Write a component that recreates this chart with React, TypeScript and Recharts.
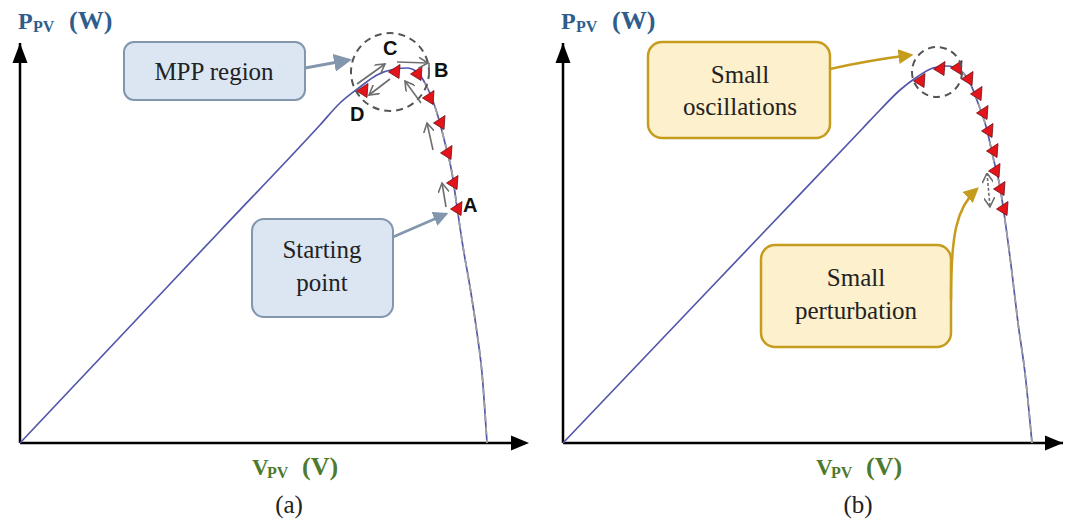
import React from 'react';
import { ComposedChart, Line, Scatter, XAxis, YAxis, ReferenceDot, ReferenceLine } from 'recharts';

// panel (a): P-V curve (V and P in % of axis length)
const voltageA = [0, 20, 40, 60, 64, 68, 71.4, 75, 77.4, 79.4, 81.4, 83.4, 85, 86.4, 87.4, 88.6, 90, 91.4, 92.4, 93.4];
const powerA = [0, 26.5, 53, 79.5, 85, 89, 92, 93.5, 93.75, 92.75, 89, 82.5, 75, 67.5, 59, 49, 39, 27.5, 17.5, 0];
// P&O operating points (red markers), from D over C, B down to A
const stepVoltageA = [68.6, 75, 79.4, 81.8, 84, 85.4, 86.6, 87.4];
const stepPowerA = [88.25, 93, 92.5, 86.5, 80.25, 72.75, 65.25, 58.75];

// panel (b)
const voltageB = [0, 20, 40, 60, 63.4, 67.4, 70.8, 74, 76.8, 79.4, 81.4, 83, 84.8, 86, 87.4, 88.4, 89.8, 91, 92.4, 93.8];
const powerB = [0, 26.25, 52.5, 78.75, 83.25, 88.25, 91.5, 93.75, 94.25, 93.25, 90, 85, 78.25, 71.5, 64, 55.75, 42.5, 30, 17.5, 0];
const stepVoltageB = [71.4, 75.4, 78.8, 81, 82.8, 84, 85, 86, 86.4, 87.4, 88];
const stepPowerB = [90.75, 93.75, 94, 91.25, 87.5, 82.75, 78.25, 73.25, 68.25, 63.75, 58.75];

const toPoints = (vs: number[], ps: number[]) => vs.map((v, i) => ({ v, p: ps[i] }));

const SERIF = "'Liberation Serif', 'Times New Roman', serif";
const SANS = "'Liberation Sans', Arial, sans-serif";

const StepMarker = (props: any) => {
  const { cx, cy } = props;
  if (cx == null || cy == null) return null;
  return (
    <polygon
      points={`${cx - 6.5},${cy + 1} ${cx + 5},${cy - 6.5} ${cx + 4},${cy + 7.5}`}
      fill="#e3141c"
      stroke="#6b1010"
      strokeWidth={0.8}
    />
  );
};

type PanelProps = {
  left: number;
  curve: { v: number; p: number }[];
  tailFrom: number;
  steps: { v: number; p: number }[];
  ring: { v: number; p: number; r: number };
};

function PvPanel({ left, curve, tailFrom, steps, ring }: PanelProps) {
  return (
    <div style={{ position: 'absolute', left, top: 0 }}>
      <ComposedChart width={540} height={470} margin={{ top: 43, right: 20, bottom: 27, left: 20 }}>
        <XAxis type="number" dataKey="v" domain={[0, 100]} hide />
        <YAxis type="number" dataKey="p" domain={[0, 100]} hide />
        {/* the two axes */}
        <ReferenceLine y={0} stroke="#000" strokeWidth={2.5} />
        <ReferenceLine x={0} stroke="#000" strokeWidth={2.5} />
        <Line data={curve} dataKey="p" type="monotone" stroke="#5257aa" strokeWidth={1.7} dot={false} isAnimationActive={false} />
        <Line
          data={curve.slice(tailFrom)}
          dataKey="p"
          type="monotone"
          stroke="#a0a0a0"
          strokeWidth={1.7}
          strokeDasharray="8 5"
          dot={false}
          isAnimationActive={false}
        />
        <Scatter data={steps} dataKey="p" shape={StepMarker} isAnimationActive={false} />
        <ReferenceDot x={ring.v} y={ring.p} r={ring.r} fill="none" stroke="#555" strokeWidth={2} strokeDasharray="7 5" ifOverflow="visible" />
      </ComposedChart>
    </div>
  );
}

function AxisTitles({ x0, vx }: { x0: number; vx: number }) {
  return (
    <g fontFamily={SERIF} fontWeight="bold">
      <text x={x0 - 2} y={29} fontSize={24} fill="#2f5d8c">P</text>
      <text x={x0 + 13} y={32} fontSize={16} fill="#2f5d8c">PV</text>
      <text x={x0 + 49} y={29} fontSize={26} fill="#2f5d8c">(W)</text>
      <text x={vx} y={475} fontSize={23} fill="#4e7a2e">V</text>
      <text x={vx + 15} y={478} fontSize={16} fill="#4e7a2e">PV</text>
      <text x={vx + 50} y={475} fontSize={26} fill="#4e7a2e">(V)</text>
    </g>
  );
}

function Overlay() {
  const steel = '#8296ae';
  const gold = '#c69c1e';
  const step = '#6e6e6e';
  return (
    <svg width={1065} height={524} style={{ position: 'absolute', left: 0, top: 0, pointerEvents: 'none' }}>
      <defs>
        <marker id="mSteel" markerWidth="6" markerHeight="6" refX="5" refY="3" orient="auto" markerUnits="strokeWidth">
          <path d="M0,0 L6,3 L0,6 z" fill={steel} />
        </marker>
        <marker id="mGold" markerWidth="6" markerHeight="6" refX="5" refY="3" orient="auto" markerUnits="strokeWidth">
          <path d="M0,0 L6,3 L0,6 z" fill={gold} />
        </marker>
        <marker id="mStep" markerWidth="7" markerHeight="7" refX="6" refY="3.5" orient="auto" markerUnits="strokeWidth">
          <path d="M0,0 L6,3.5 L0,7" fill="none" stroke={step} strokeWidth={1} />
        </marker>
        <marker id="mStepStart" markerWidth="7" markerHeight="7" refX="0" refY="3.5" orient="auto" markerUnits="strokeWidth">
          <path d="M6,0 L0,3.5 L6,7" fill="none" stroke={step} strokeWidth={1} />
        </marker>
      </defs>

      {/* axis arrow heads */}
      <polygon points="20,43 12.5,63 27.5,63" fill="#000" />
      <polygon points="529,443 511,435.5 511,450.5" fill="#000" />
      <polygon points="563,43 555.5,63 570.5,63" fill="#000" />
      <polygon points="1063,443 1045,435.5 1045,450.5" fill="#000" />

      <AxisTitles x0={20} vx={252} />
      <AxisTitles x0={563} vx={816} />

      <g fontFamily={SERIF} fontSize={25} fill="#222" textAnchor="middle">
        <text x={289} y={513}>(a)</text>
        <text x={858} y={513}>(b)</text>
      </g>

      {/* (a) call-outs */}
      <rect x={124} y={42} width={181} height={58} rx={10} fill="#dce6f2" stroke={steel} strokeWidth={2} />
      <text x={214} y={80} fontFamily={SERIF} fontSize={25} fill="#222" textAnchor="middle">MPP region</text>
      <line x1={305} y1={68} x2={349} y2={60} stroke={steel} strokeWidth={3} markerEnd="url(#mSteel)" />

      <rect x={252} y={219} width={141} height={98} rx={12} fill="#dce6f2" stroke={steel} strokeWidth={2} />
      <g fontFamily={SERIF} fontSize={25} fill="#222" textAnchor="middle">
        <text x={322} y={258}>Starting</text>
        <text x={322} y={291}>point</text>
      </g>
      <line x1={393} y1={237} x2={446} y2={214} stroke={steel} strokeWidth={2.5} markerEnd="url(#mSteel)" />

      {/* (a) perturb & observe steps */}
      <g stroke={step} strokeWidth={1.6} fill="none">
        <line x1={446} y1={207} x2={442} y2={183} markerEnd="url(#mStep)" />
        <line x1={433} y1={150} x2={427} y2={123} markerEnd="url(#mStep)" />
        <line x1={421} y1={103} x2={405} y2={81} markerEnd="url(#mStep)" />
        <line x1={357} y1={84} x2={385} y2={64} markerEnd="url(#mStep)" />
        <line x1={397} y1={62} x2={428} y2={63} markerEnd="url(#mStep)" />
        <line x1={429} y1={63} x2={429} y2={76} />
        <line x1={390} y1={79} x2={369} y2={95} markerEnd="url(#mStep)" />
      </g>
      <g fontFamily={SANS} fontWeight="bold" fontSize={20} fill="#111">
        <text x={463} y={212}>A</text>
        <text x={434} y={77}>B</text>
        <text x={383} y={55}>C</text>
        <text x={350} y={121}>D</text>
      </g>

      {/* (b) call-outs */}
      <rect x={648} y={42} width={182} height={96} rx={14} fill="#fdf0cc" stroke={gold} strokeWidth={2.5} />
      <g fontFamily={SERIF} fontSize={25} fill="#222" textAnchor="middle">
        <text x={740} y={83}>Small</text>
        <text x={740} y={115}>oscillations</text>
      </g>
      <path d="M830,69 Q870,60 911,55" stroke={gold} strokeWidth={2.5} fill="none" markerEnd="url(#mGold)" />

      <rect x={761} y={245} width={190} height={102} rx={14} fill="#fdf0cc" stroke={gold} strokeWidth={2.5} />
      <g fontFamily={SERIF} fontSize={25} fill="#222" textAnchor="middle">
        <text x={856} y={286}>Small</text>
        <text x={856} y={319}>perturbation</text>
      </g>
      <path d="M951,300 C951,235 956,208 977,189" stroke={gold} strokeWidth={2.5} fill="none" markerEnd="url(#mGold)" />

      <line x1={987} y1={173} x2={990} y2={207} stroke={step} strokeWidth={1.6} strokeDasharray="3 2"
        markerStart="url(#mStepStart)" markerEnd="url(#mStep)" />
    </svg>
  );
}

export default function App() {
  const curveA = toPoints(voltageA, powerA);
  const curveB = toPoints(voltageB, powerB);
  return (
    <div style={{ position: 'absolute', left: 0, top: 0, width: 1065, height: 524, background: '#fff', overflow: 'hidden' }}>
      <PvPanel left={0} curve={curveA} tailFrom={9} steps={toPoints(stepVoltageA, stepPowerA)} ring={{ v: 74, p: 92.75, r: 39 }} />
      <PvPanel left={543} curve={curveB} tailFrom={9} steps={toPoints(stepVoltageB, stepPowerB)} ring={{ v: 74.8, p: 92.75, r: 25 }} />
      <Overlay />
    </div>
  );
}
